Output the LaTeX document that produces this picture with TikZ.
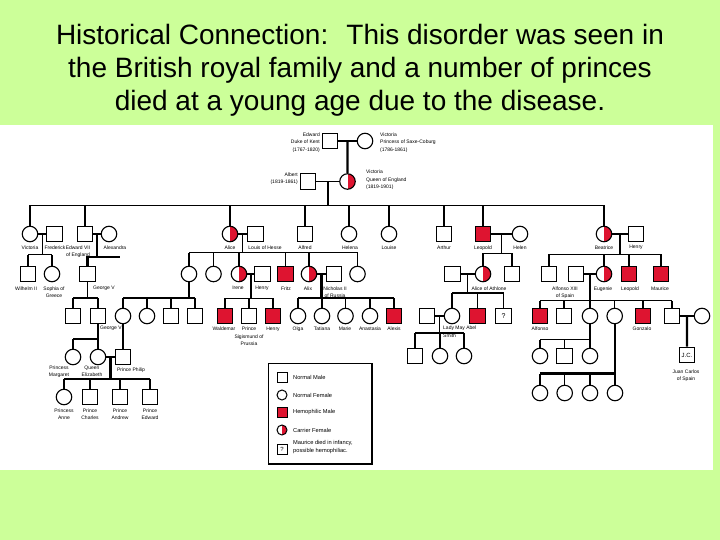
\documentclass[tikz,border=0pt]{standalone}
\usepackage{fontspec}
\setmainfont{Liberation Sans}
\usetikzlibrary{calc}
\definecolor{bggreen}{RGB}{204,255,153}
\definecolor{hemo}{RGB}{222,20,48}
\newcommand\marr[4]{\draw[#4] (#1.east) -- (#2.west); \coordinate (#3) at ($(#1.east)!.5!(#2.west)$);}
\begin{document}
\begin{tikzpicture}[x=1pt,y=-1pt,
  ind/.style={draw=black, line width=1.1pt, inner sep=0pt, minimum size=15.5pt, fill=white},
  male/.style={ind, rectangle},
  fem/.style={ind, circle},
  hmale/.style={male, fill=hemo},
  carr/.style={fem, path picture={\fill[hemo] (path picture bounding box.north) rectangle (path picture bounding box.south east);}},
  ln/.style={line width=1.1pt},
  thk/.style={line width=2.2pt},
  lbl/.style={font=\fontsize{5}{7.5}\selectfont, inner sep=0pt, align=center, anchor=north},
  ttl/.style={font=\fontsize{28}{32}\selectfont, anchor=base, inner sep=0pt},
  lgs/.style={draw=black, line width=1pt, inner sep=0pt, minimum size=10pt},
  lgt/.style={font=\fontsize{5.7}{8.5}\selectfont, inner sep=0pt, anchor=west, align=left}
]
\useasboundingbox (0,0) rectangle (720,540);
\fill[bggreen] (0,0) rectangle (720,540);
\fill[white] (0,125.5) rectangle (712.5,470);

% title
\node[ttl] (t1) at (360,45) {Historical Connection:~ This disorder was seen in};
\node[ttl] (t2) at (360,78) {the British royal family and a number of princes};
\node[ttl] (t3) at (360,111) {died at a young age due to the disease.};

% ---------- Generation I ----------
\node[male] (E1) at (330,141) {};
\node[fem] (V1) at (365,141) {};
\node[male] (AB) at (308,181.5) {};
\node[carr] (QV) at (347.5,181.5) {};
\marr{E1}{V1}{m1}{ln}
\draw[thk] (m1) -- (QV.north);
\marr{AB}{QV}{m2}{ln}
\coordinate (top) at (0,205.5);
\draw[thk] (m2) -- (m2 |- top);
\node[lbl, anchor=east, align=right] (lE1) at (320,142.5) {Edward\\Duke of Kent\\(1767-1820)};
\node[lbl, anchor=west, align=left] (lV1) at (380,142.5) {Victoria\\Princess of Saxe-Coburg\\(1786-1861)};
\node[lbl, anchor=east, align=right] (lAB) at (298,178.5) {Albert\\(1819-1861)};
\node[lbl, anchor=west, align=left] (lQV) at (366,180) {Victoria\\Queen of England\\(1819-1901)};

% ---------- Generation II ----------
\node[fem] (VR) at (30,234) {};
\node[male] (FR) at (54.5,234) {};
\node[male] (E7) at (85,234) {};
\node[fem] (AX) at (109,234) {};
\node[carr] (AL) at (230,234) {};
\node[male] (LH) at (255.5,234) {};
\node[male] (AF) at (305,234) {};
\node[fem] (HL) at (349,234) {};
\node[fem] (LO) at (389,234) {};
\node[male] (AR) at (444,234) {};
\node[hmale] (LP) at (483,234) {};
\node[fem] (HN) at (520,234) {};
\node[carr] (BE) at (604,234) {};
\node[male] (HB) at (636,234) {};
\draw[ln] (VR.north |- top) -- (BE.north |- top);
\foreach \c/\s in {VR/ln,E7/thk,AL/ln,AF/ln,HL/ln,LO/ln,AR/ln,LP/ln,BE/ln}
  \draw[\s] (\c.north) -- (\c.north |- top);
\node[lbl] (lVR) at (30,245.3) {Victoria};
\node[lbl] (lFR) at (55,245.3) {Frederick};
\node[lbl] (lE7) at (78,245.3) {Edward VII\\of England};
\node[lbl] (lAX) at (115,245.3) {Alexandra};
\node[lbl] (lAL) at (230,245.3) {Alice};
\node[lbl] (lLH) at (265,245.3) {Louis of Hesse};
\node[lbl] (lAF) at (305,245.3) {Alfred};
\node[lbl] (lHL) at (350,245.3) {Helena};
\node[lbl] (lLO) at (389,245.3) {Louise};
\node[lbl] (lAR) at (444,245.3) {Arthur};
\node[lbl] (lLP) at (483,245.3) {Leopold};
\node[lbl] (lHN) at (520,245.3) {Helen};
\node[lbl] (lBE) at (604,245.3) {Beatrice};
\node[lbl] (lHB) at (636,245.3) {Henry};

% ---------- Generation III ----------
\node[male] (W2) at (28,274) {};
\node[fem] (SO) at (52,274) {};
\node[male] (G5) at (87.5,274) {};
\node[fem] (C1) at (189,274) {};
\node[fem] (C2) at (213.5,274) {};
\node[carr] (IR) at (239,274) {};
\node[male] (HY) at (262.5,274) {};
\node[hmale] (FZ) at (285.5,274) {};
\node[carr] (AX2) at (309,274) {};
\node[male] (N2) at (334,274) {};
\node[fem] (C8) at (357.5,274) {};
\node[male] (TK) at (452.5,274) {};
\node[carr] (AT) at (483,274) {};
\node[male] (S2) at (512,274) {};
\node[male] (B1) at (549,274) {};
\node[male] (AFX) at (576,274) {};
\node[carr] (EU) at (604,274) {};
\node[hmale] (LP2) at (629,274) {};
\node[hmale] (MR) at (661,274) {};

% Victoria & Frederick
\marr{VR}{FR}{mVR}{ln}
\coordinate (sVR) at (0,254.5);
\draw[ln] (mVR) -- (mVR |- sVR);
\draw[ln] (W2.north |- sVR) -- (SO.north |- sVR);
\draw[thk] (W2.north) -- (W2.north |- sVR);
\draw[ln] (SO.north) -- (SO.north |- sVR);
% Edward VII & Alexandra
\marr{E7}{AX}{mE7}{ln}
\coordinate (sE7) at (120,257);
\draw[thk] (mE7) -- (mE7 |- sE7);
\draw[thk] (G5.north) -- (G5.north |- sE7) -- (sE7);
% Alice & Louis
\marr{AL}{LH}{mAL}{ln}
\coordinate (sAL) at (0,252.7);
\draw[ln] (mAL) -- (mAL |- sAL);
\draw[ln] (C1.north |- sAL) -- (C8.north |- sAL);
\foreach \c in {C1,C2,IR,FZ,AX2,C8} \draw[ln] (\c.north) -- (\c.north |- sAL);
% Leopold & Helen
\marr{LP}{HN}{mLP}{ln}
\coordinate (sLP) at (0,253.3);
\draw[ln] (mLP) -- (mLP |- sLP);
\draw[ln] (AT.north |- sLP) -- (S2.north |- sLP);
\foreach \c in {AT,S2} \draw[ln] (\c.north) -- (\c.north |- sLP);
% Beatrice & Henry
\marr{BE}{HB}{mBE}{ln}
\coordinate (sBE) at (0,254.3);
\draw[ln] (mBE) -- (mBE |- sBE);
\draw[ln] (B1.north |- sBE) -- (MR.north |- sBE);
\foreach \c in {B1,EU,LP2,MR} \draw[ln] (\c.north) -- (\c.north |- sBE);

\node[lbl] (lW2) at (26,286.3) {Wilhelm II};
\node[lbl] (lSO) at (54,286.3) {Sophia of\\Greece};
\node[lbl, anchor=north west] (lG5) at (93,286.3) {George V};
\node[lbl] (lIR) at (238,286.3) {Irene};
\node[lbl] (lHY) at (262,286.3) {Henry};
\node[lbl] (lFZ) at (286,286.3) {Fritz};
\node[lbl] (lAX2) at (308,286.3) {Alix};
\node[lbl] (lN2) at (335,286.3) {Nicholas II\\of Russia};
\node[lbl] (lAT) at (489,286.3) {Alice of Athlone};
\node[lbl] (lAFX) at (565,286.3) {Alfonso XIII\\of Spain};
\node[lbl] (lEU) at (603,286.3) {Eugenie};
\node[lbl] (lLP2) at (630,286.3) {Leopold};
\node[lbl] (lMR) at (660,286.3) {Maurice};

% ---------- Generation IV ----------
\node[male] (K1) at (73,316) {};
\node[male] (G6) at (98,316) {};
\node[fem] (D1) at (123,316) {};
\node[fem] (D2) at (147,316) {};
\node[male] (D3) at (171,316) {};
\node[male] (D4) at (195,316) {};
\node[hmale] (WD) at (225,316) {};
\node[male] (SG) at (249,316) {};
\node[hmale] (HR) at (273,316) {};
\node[fem] (OL) at (298,316) {};
\node[fem] (TA) at (322,316) {};
\node[fem] (MA) at (345.5,316) {};
\node[fem] (AN) at (370,316) {};
\node[hmale] (AL2) at (394,316) {};
\node[male] (HS) at (427,316) {};
\node[fem] (MY) at (452,316) {};
\node[hmale] (RU) at (477.5,316) {};
\node[male] (MQ) at (503.5,316) {\fontsize{7}{7}\selectfont ?};
\node[hmale] (AO) at (540,316) {};
\node[male] (JA) at (564,316) {};
\node[fem] (BZ) at (590,316) {};
\node[fem] (MC) at (614.7,316) {};
\node[hmale] (GZ) at (643,316) {};
\node[male] (JU) at (672,316) {};
\node[fem] (JW) at (702,316) {};

% George V's children
\coordinate (sG5) at (0,298.3);
\draw[ln] (G5.south) -- (G5.south |- sG5);
\draw[thk] (K1.north |- sG5) -- (G6.north |- sG5);
\draw[ln] (K1.north) -- (K1.north |- sG5);
\draw[thk] (G6.north) -- (G6.north |- sG5);
% Victoria of Hesse's children
\coordinate (sC1) at (0,298);
\draw[ln] (C1.south) -- (C1.south |- sC1);
\draw[ln] (D1.north |- sC1) -- (D4.north |- sC1);
\foreach \c in {D1,D2,D3,D4} \draw[ln] (\c.north) -- (\c.north |- sC1);
% Irene & Henry
\marr{IR}{HY}{mIR}{ln}
\coordinate (sIR) at (0,298.3);
\draw[thk] (mIR) -- (mIR |- sIR);
\draw[ln] (WD.north |- sIR) -- (HR.north |- sIR);
\foreach \c in {WD,SG,HR} \draw[ln] (\c.north) -- (\c.north |- sIR);
% Alix & Nicholas
\marr{AX2}{N2}{mAX}{ln}
\coordinate (sAX) at (0,298);
\draw[thk] (mAX) -- (mAX |- sAX);
\draw[ln] (OL.north |- sAX) -- (AL2.north |- sAX);
\foreach \c/\s in {OL/ln,TA/ln,MA/ln,AN/ln,AL2/thk} \draw[\s] (\c.north) -- (\c.north |- sAX);
% Alice of Athlone
\marr{TK}{AT}{mAT}{ln}
\coordinate (sAT) at (0,292.7);
\draw[ln] (mAT) -- (mAT |- sAT);
\draw[thk] (MY.north |- sAT) -- (MQ.north |- sAT);
\foreach \c in {MY,RU,MQ} \draw[ln] (\c.north) -- (\c.north |- sAT);
% Eugenie & Alfonso XIII
\marr{AFX}{EU}{mEU}{ln}
\coordinate (sEU) at (0,300.5);
\draw[ln] (mEU) -- (mEU |- sEU);
\draw[ln] (AO.north |- sEU) -- (JU.north |- sEU);
\foreach \c in {AO,JA,BZ,MC,GZ,JU} \draw[ln] (\c.north) -- (\c.north |- sEU);

\node[lbl, anchor=north west] (lG6) at (100,325.8) {George VI};
\node[lbl] (lWD) at (224,326.8) {Waldemar};
\node[lbl] (lSG) at (249,326.8) {Prince\\Sigismund of\\Prussia};
\node[lbl] (lHR) at (273,326.8) {Henry};
\node[lbl] (lOL) at (298,326.8) {Olga};
\node[lbl] (lTA) at (322,326.8) {Tatiana};
\node[lbl] (lMA) at (345,326.8) {Marie};
\node[lbl] (lAN) at (370,326.8) {Anastasia};
\node[lbl] (lAL2) at (394,326.8) {Alexis};
\node[lbl, anchor=north west, align=left] (lMY) at (443,325.8) {Lady May Abel\\Smith};
\node[lbl] (lAO) at (540,326.8) {Alfonso};
\node[lbl] (lGZ) at (642,326.8) {Gonzalo};

% ---------- Generation V ----------
\node[fem] (PM) at (73,357) {};
\node[fem] (QE) at (98,357) {};
\node[male] (PP) at (123,357) {};
\node[male] (Y1) at (415,356) {};
\node[fem] (Y2) at (440,356) {};
\node[fem] (Y3) at (464,356) {};
\node[fem] (Z1) at (540,356) {};
\node[male] (Z2) at (564.5,356) {};
\node[fem] (Z3) at (590,356) {};
\node[male] (JC) at (687,355) {\fontsize{6}{6}\selectfont J.C.};

\coordinate (sG6) at (0,339);
\draw[thk] (G6.south) -- (G6.south |- sG6) -- (PM.north |- sG6);
\draw[ln] (PM.north) -- (PM.north |- sG6);
\draw[thk] (QE.north) -- (QE.north |- sG6);
\draw[ln] (D1.south) -- (PP.north);
\marr{HS}{MY}{mMY}{ln}
\coordinate (sMY) at (0,333);
\draw[ln] (mMY) -- (mMY |- sMY);
\draw[ln] (Y1.north |- sMY) -- (Y3.north |- sMY);
\foreach \c in {Y1,Y2,Y3} \draw[ln] (\c.north) -- (\c.north |- sMY);
\coordinate (sBZ) at (0,339.5);
\draw[ln] (BZ.south) -- (BZ.south |- sBZ);
\draw[ln] (Z1.north |- sBZ) -- (Z3.north |- sBZ);
\foreach \c in {Z1,Z2,Z3} \draw[ln] (\c.north) -- (\c.north |- sBZ);
\marr{JU}{JW}{mJU}{thk}
\draw[thk] (mJU) -- (JC.north);

\node[lbl] (lPM) at (59,365.5) {Princess\\Margaret};
\node[lbl] (lQE) at (92,365.5) {Queen\\Elizabeth};
\node[lbl] (lPP) at (131,368) {Prince Philip};
\node[lbl] (lJC) at (686,369.5) {Juan Carlos\\of Spain};

% ---------- Generation VI ----------
\node[fem] (PA) at (64,397) {};
\node[male] (PC) at (90,397) {};
\node[male] (PAn) at (120,397) {};
\node[male] (PE) at (150,397) {};
\node[fem] (X1) at (540,393) {};
\node[fem] (X2) at (564.7,393) {};
\node[fem] (X3) at (590,393) {};
\node[fem] (X4) at (615,393) {};

\marr{QE}{PP}{mQE}{thk}
\coordinate (sQE) at (0,379);
\draw[thk] (mQE) -- (mQE |- sQE);
\draw[thk] (PA.north |- sQE) -- (PE.north |- sQE);
\foreach \c/\s in {PA/thk,PC/ln,PAn/ln,PE/ln} \draw[\s] (\c.north) -- (\c.north |- sQE);
\coordinate (sMC) at (0,373.5);
\draw[thk] (MC.south) -- (MC.south |- sMC);
\draw[thk] (X1.north |- sMC) -- (X4.north |- sMC);
\foreach \c in {X1,X2,X3,X4} \draw[ln] (\c.north) -- (\c.north |- sMC);

\node[lbl] (lPA) at (64,408.5) {Princess\\Anne};
\node[lbl] (lPC) at (90,408.5) {Prince\\Charles};
\node[lbl] (lPAn) at (120,408.5) {Prince\\Andrew};
\node[lbl] (lPE) at (150,408.5) {Prince\\Edward};

% ---------- Legend ----------
\draw[line width=1.3pt] (268.7,363.7) rectangle (372,464);
\node[lgs, rectangle] (lgM) at (282,377.5) {};
\node[lgs, circle] (lgF) at (282,395) {};
\node[lgs, rectangle, fill=hemo] (lgH) at (282,412) {};
\node[lgs, circle, path picture={\fill[hemo] (path picture bounding box.north) rectangle (path picture bounding box.south east);}] (lgC) at (282,430) {};
\node[lgs, rectangle] (lgQ) at (282,449) {\fontsize{6}{6}\selectfont ?};
\node[lgt] (tM) at (293,377.5) {Normal Male};
\node[lgt] (tF) at (293,395) {Normal Female};
\node[lgt] (tH) at (293,412) {Hemophilic Male};
\node[lgt] (tC) at (293,430) {Carrier Female};
\node[lgt] (tQ) at (293,447) {Maurice died in infancy,\\possible hemophiliac.};
\end{tikzpicture}
\end{document}
